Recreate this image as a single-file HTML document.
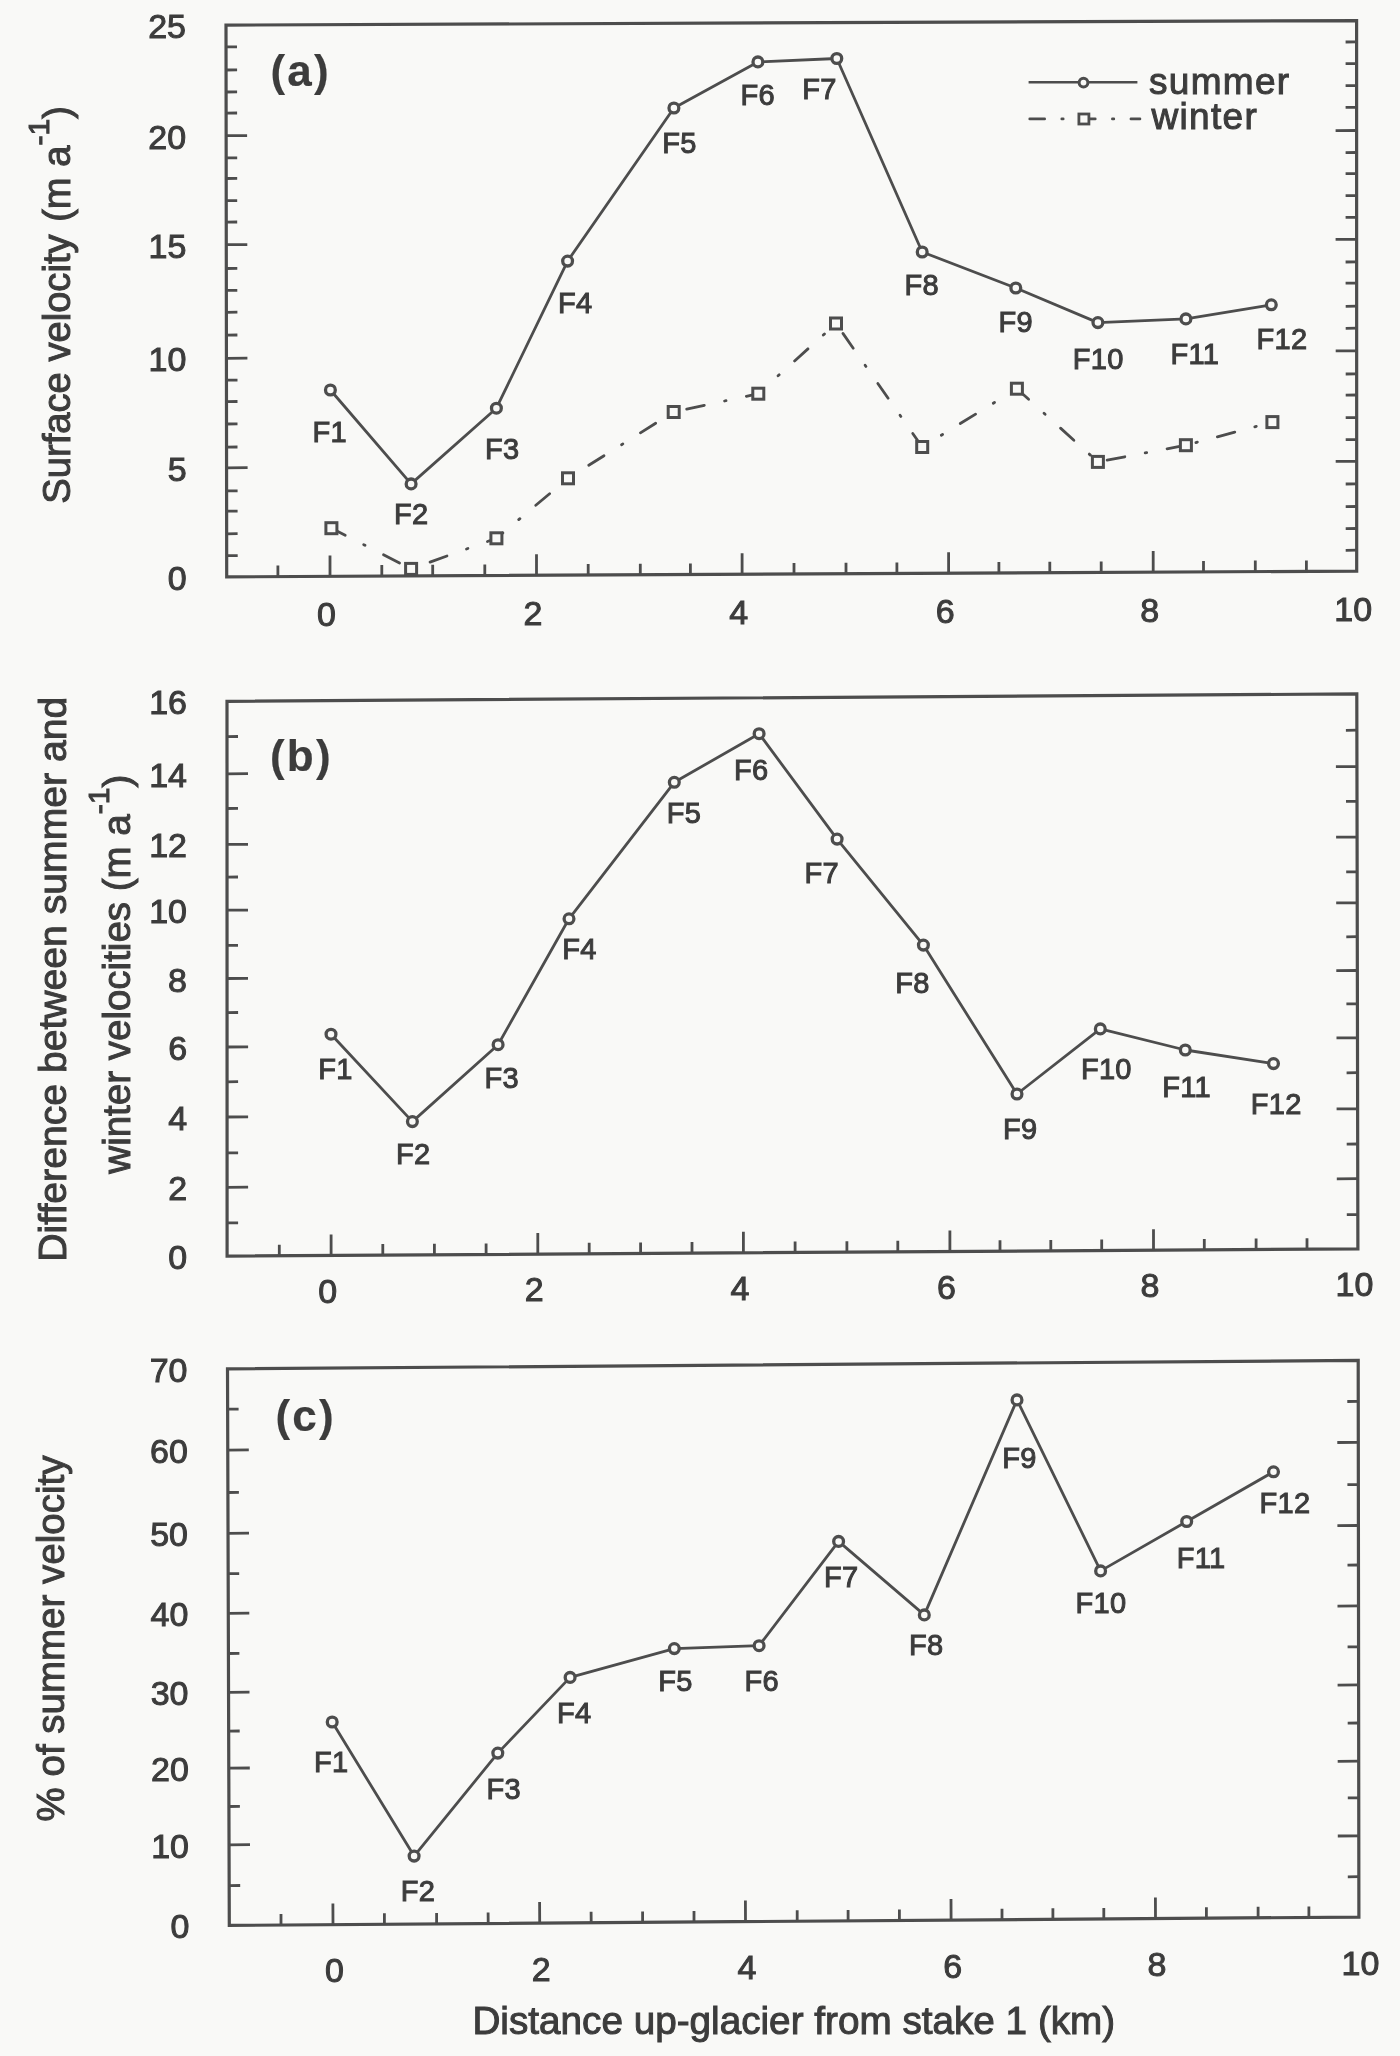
<!DOCTYPE html>
<html><head><meta charset="utf-8"><title>Surface velocity figure</title>
<style>html,body{margin:0;padding:0;background:#f9f9f7;overflow:hidden;width:1400px;height:2056px;}svg{display:block;filter:blur(0.6px);}text{stroke:#3c3c3c;stroke-width:1.0px;}text.b{stroke-width:0.2px;}</style>
</head><body>
<svg width="1400" height="2056" viewBox="0 0 1400 2056" font-family="'Liberation Sans', Arial, Helvetica, sans-serif">
<rect width="1400" height="2056" fill="#f9f9f7"/>
<polygon points="226.0,25.1 1356.6,20.6 1356.7,571.1 226.7,576.9" fill="none" stroke="#4d4d4d" stroke-width="3.2" stroke-linejoin="miter"/>
<path d="M226.7,555.7L237.7,555.6M1356.7,550.2L1345.7,550.3M226.6,533.8L237.6,533.7M1356.7,528.5L1345.7,528.6M226.6,511.2L237.6,511.1M1356.7,506.5L1345.7,506.6M226.6,490.9L237.6,490.8M1356.7,483.9L1345.7,484.0M226.6,467.8L247.6,467.7M1356.7,461.3L1335.7,461.4M226.5,447.1L237.5,447.0M1356.7,439.6L1345.7,439.7M226.5,424.0L237.5,423.9M1356.7,417.6L1345.7,417.7M226.5,401.6L237.5,401.5M1356.7,395.0L1345.7,395.1M226.5,380.2L237.5,380.1M1356.7,373.9L1345.7,374.0M226.4,358.3L247.4,358.2M1356.7,350.8L1335.7,350.9M226.4,335.1L237.4,335.0M1356.7,328.2L1345.7,328.3M226.4,312.3L237.4,312.2M1356.7,306.2L1345.7,306.3M226.3,290.4L237.3,290.3M1356.6,283.1L1345.6,283.2M226.3,268.5L237.3,268.4M1356.6,261.9L1345.6,262.0M226.3,244.7L247.3,244.6M1356.6,239.3L1335.6,239.4M226.2,222.1L237.2,222.0M1356.6,217.3L1345.6,217.4M226.2,200.7L237.2,200.6M1356.6,195.6L1345.6,195.7M226.2,178.5L237.2,178.4M1356.6,173.6L1345.6,173.7M226.2,157.9L237.2,157.8M1356.6,152.5L1345.6,152.6M226.1,135.7L247.1,135.6M1356.6,130.5L1335.6,130.6M226.1,113.1L237.1,113.0M1356.6,107.3L1345.6,107.4M226.1,92.0L237.1,91.9M1356.6,85.6L1345.6,85.7M226.1,70.0L237.1,69.9M1356.6,63.6L1345.6,63.7M226.0,46.9L237.0,46.8M1356.6,41.9L1345.6,42.0M277.9,576.6L277.9,565.6M330.0,576.4L330.0,555.4M381.8,576.1L381.8,565.1M432.7,575.8L432.7,564.8M484.8,575.6L484.8,564.6M536.5,575.3L536.5,554.3M588.2,575.0L588.2,564.0M640.3,574.8L640.3,563.8M690.4,574.5L690.4,563.5M742.1,574.3L742.1,553.3M794.0,574.0L794.0,563.0M846.0,573.7L846.0,562.7M896.9,573.5L896.9,562.5M948.6,573.2L948.6,552.2M998.9,572.9L998.9,561.9M1049.8,572.7L1049.8,561.7M1101.2,572.4L1101.2,561.4M1153.2,572.1L1153.2,551.1M1203.5,571.9L1203.5,560.9M1255.3,571.6L1255.3,560.6M1306.4,571.4L1306.4,560.4" stroke="#4d4d4d" stroke-width="2.8" fill="none"/>
<g font-size="34" fill="#3c3c3c"><text x="186.7" y="589.9" text-anchor="end">0</text><text x="186.6" y="480.8" text-anchor="end">5</text><text x="186.4" y="371.3" text-anchor="end">10</text><text x="186.3" y="257.7" text-anchor="end">15</text><text x="186.1" y="148.7" text-anchor="end">20</text><text x="186.0" y="38.1" text-anchor="end">25</text><text x="326.5" y="626.0" text-anchor="middle">0</text><text x="533.0" y="624.9" text-anchor="middle">2</text><text x="738.6" y="623.9" text-anchor="middle">4</text><text x="945.1" y="622.8" text-anchor="middle">6</text><text x="1149.7" y="621.7" text-anchor="middle">8</text><text x="1353.2" y="620.7" text-anchor="middle">10</text></g>
<polygon points="227.0,701.3 1356.8,693.9 1357.9,1248.9 227.1,1256.1" fill="none" stroke="#4d4d4d" stroke-width="3.2" stroke-linejoin="miter"/>
<path d="M227.1,1222.9L238.1,1222.8M1357.8,1214.6L1346.8,1214.7M227.1,1187.3L248.1,1187.2M1357.8,1178.7L1336.8,1178.8M227.1,1152.9L238.1,1152.8M1357.7,1144.0L1346.7,1144.1M227.1,1117.0L248.1,1116.9M1357.6,1108.8L1336.6,1108.9M227.1,1081.8L238.1,1081.7M1357.6,1072.7L1346.6,1072.8M227.1,1047.0L248.1,1046.9M1357.5,1037.8L1336.5,1037.9M227.1,1012.6L238.1,1012.5M1357.4,1003.8L1346.4,1003.9M227.0,978.5L248.0,978.4M1357.3,970.5L1336.3,970.6M227.0,945.4L238.0,945.3M1357.3,936.7L1346.3,936.8M227.0,910.2L248.0,910.1M1357.2,902.8L1336.2,902.9M227.0,877.1L238.0,877.0M1357.2,871.8L1346.2,871.9M227.0,844.4L248.0,844.3M1357.1,837.1L1336.1,837.2M227.0,808.5L238.0,808.4M1357.0,801.3L1346.0,801.4M227.0,773.8L248.0,773.7M1356.9,766.6L1335.9,766.7M227.0,736.6L238.0,736.5M1356.9,730.2L1345.9,730.3M279.3,1255.8L279.3,1244.8M331.1,1255.4L331.1,1234.4M382.8,1255.1L382.8,1244.1M434.4,1254.8L434.4,1243.8M486.1,1254.5L486.1,1243.5M537.8,1254.1L537.8,1233.1M589.2,1253.8L589.2,1242.8M640.6,1253.5L640.6,1242.5M692.0,1253.1L692.0,1242.1M743.4,1252.8L743.4,1231.8M795.1,1252.5L795.1,1241.5M846.9,1252.2L846.9,1241.2M897.8,1251.8L897.8,1240.8M949.9,1251.5L949.9,1230.5M1000.0,1251.2L1000.0,1240.2M1050.8,1250.9L1050.8,1239.9M1101.7,1250.5L1101.7,1239.5M1153.5,1250.2L1153.5,1229.2M1204.3,1249.9L1204.3,1238.9M1256.1,1249.5L1256.1,1238.5M1307.0,1249.2L1307.0,1238.2" stroke="#4d4d4d" stroke-width="2.8" fill="none"/>
<g font-size="34" fill="#3c3c3c"><text x="187.1" y="1269.1" text-anchor="end">0</text><text x="187.1" y="1200.3" text-anchor="end">2</text><text x="187.1" y="1130.0" text-anchor="end">4</text><text x="187.1" y="1060.0" text-anchor="end">6</text><text x="187.0" y="991.5" text-anchor="end">8</text><text x="187.0" y="923.2" text-anchor="end">10</text><text x="187.0" y="857.4" text-anchor="end">12</text><text x="187.0" y="786.8" text-anchor="end">14</text><text x="187.0" y="714.3" text-anchor="end">16</text><text x="327.6" y="1302.6" text-anchor="middle">0</text><text x="534.3" y="1301.3" text-anchor="middle">2</text><text x="739.9" y="1300.0" text-anchor="middle">4</text><text x="946.4" y="1298.7" text-anchor="middle">6</text><text x="1150.0" y="1297.4" text-anchor="middle">8</text><text x="1354.4" y="1296.1" text-anchor="middle">10</text></g>
<polygon points="227.5,1368.9 1358.2,1360.4 1358.9,1917.1 229.3,1925.4" fill="none" stroke="#4d4d4d" stroke-width="3.2" stroke-linejoin="miter"/>
<path d="M229.2,1885.6L240.2,1885.5M1358.8,1876.7L1347.8,1876.8M229.0,1844.8L250.0,1844.6M1358.8,1835.8L1337.8,1836.0M228.9,1806.5L239.9,1806.4M1358.7,1797.8L1347.8,1797.9M228.8,1768.2L249.8,1768.0M1358.7,1761.1L1337.7,1761.3M228.7,1731.1L239.7,1731.0M1358.7,1723.0L1347.7,1723.1M228.5,1692.3L249.5,1692.1M1358.6,1684.9L1337.6,1685.1M228.4,1653.5L239.4,1653.4M1358.6,1646.8L1347.6,1646.9M228.3,1613.3L249.3,1613.1M1358.5,1605.9L1337.5,1606.1M228.2,1573.7L239.2,1573.6M1358.5,1565.0L1347.5,1565.1M228.0,1533.4L249.0,1533.2M1358.4,1525.5L1337.4,1525.7M227.9,1492.5L238.9,1492.4M1358.4,1484.6L1347.4,1484.7M227.8,1450.1L248.8,1449.9M1358.3,1442.3L1337.3,1442.5M227.6,1409.2L238.6,1409.1M1358.3,1401.4L1347.3,1401.5M281.0,1925.0L281.0,1914.0M333.0,1924.6L332.9,1903.6M384.4,1924.3L384.4,1913.3M436.6,1923.9L436.6,1912.9M488.2,1923.5L488.1,1912.5M539.7,1923.1L539.6,1902.1M591.2,1922.7L591.1,1911.7M642.6,1922.4L642.6,1911.4M694.0,1922.0L694.0,1911.0M745.5,1921.6L745.4,1900.6M797.2,1921.2L797.2,1910.2M848.1,1920.9L848.1,1909.9M899.4,1920.5L899.4,1909.5M951.1,1920.1L951.0,1899.1M1002.0,1919.7L1002.0,1908.7M1052.9,1919.3L1052.9,1908.3M1103.8,1919.0L1103.8,1908.0M1155.5,1918.6L1155.4,1897.6M1206.4,1918.2L1206.4,1907.2M1258.1,1917.8L1258.1,1906.8M1308.9,1917.5L1308.9,1906.5" stroke="#4d4d4d" stroke-width="2.8" fill="none"/>
<g font-size="34" fill="#3c3c3c"><text x="189.3" y="1938.4" text-anchor="end">0</text><text x="189.0" y="1857.8" text-anchor="end">10</text><text x="188.8" y="1781.2" text-anchor="end">20</text><text x="188.5" y="1705.3" text-anchor="end">30</text><text x="188.3" y="1626.3" text-anchor="end">40</text><text x="188.0" y="1546.4" text-anchor="end">50</text><text x="187.8" y="1463.1" text-anchor="end">60</text><text x="187.5" y="1381.9" text-anchor="end">70</text><text x="334.5" y="1982.0" text-anchor="middle">0</text><text x="541.2" y="1980.5" text-anchor="middle">2</text><text x="747.0" y="1979.0" text-anchor="middle">4</text><text x="952.6" y="1977.5" text-anchor="middle">6</text><text x="1157.0" y="1976.0" text-anchor="middle">8</text><text x="1360.4" y="1974.5" text-anchor="middle">10</text></g>
<line x1="331.4" y1="528.2" x2="411.1" y2="568.9" stroke="#4d4d4d" stroke-dasharray="18 20.75 1.5 20.75" stroke-width="2.8" stroke-dashoffset="2.5" stroke-linecap="round"/><line x1="411.1" y1="568.9" x2="496.4" y2="538.3" stroke="#4d4d4d" stroke-dasharray="18 20.75 1.5 20.75" stroke-width="2.8" stroke-dashoffset="40.9" stroke-linecap="round"/><line x1="496.4" y1="538.3" x2="568.0" y2="478.3" stroke="#4d4d4d" stroke-dasharray="18 20.75 1.5 20.75" stroke-width="2.8" stroke-dashoffset="9.6" stroke-linecap="round"/><line x1="568.0" y1="478.3" x2="673.7" y2="412.0" stroke="#4d4d4d" stroke-dasharray="18 20.75 1.5 20.75" stroke-width="2.8" stroke-dashoffset="36.5" stroke-linecap="round"/><line x1="673.7" y1="412.0" x2="758.3" y2="393.7" stroke="#4d4d4d" stroke-dasharray="18 20.75 1.5 20.75" stroke-width="2.8" stroke-dashoffset="47.7" stroke-linecap="round"/><line x1="758.3" y1="393.7" x2="836.0" y2="323.5" stroke="#4d4d4d" stroke-dasharray="18 20.75 1.5 20.75" stroke-width="2.8" stroke-dashoffset="12.1" stroke-linecap="round"/><line x1="836.0" y1="323.5" x2="922.2" y2="447.0" stroke="#4d4d4d" stroke-dasharray="18 20.75 1.5 20.75" stroke-width="2.8" stroke-dashoffset="48.9" stroke-linecap="round"/><line x1="922.2" y1="447.0" x2="1016.9" y2="388.7" stroke="#4d4d4d" stroke-dasharray="18 20.75 1.5 20.75" stroke-width="2.8" stroke-dashoffset="16.3" stroke-linecap="round"/><line x1="1016.9" y1="388.7" x2="1097.9" y2="461.9" stroke="#4d4d4d" stroke-dasharray="18 20.75 1.5 20.75" stroke-width="2.8" stroke-dashoffset="2.2" stroke-linecap="round"/><line x1="1097.9" y1="461.9" x2="1185.9" y2="445.2" stroke="#4d4d4d" stroke-dasharray="18 20.75 1.5 20.75" stroke-width="2.8" stroke-dashoffset="51.6" stroke-linecap="round"/><line x1="1185.9" y1="445.2" x2="1272.4" y2="422.1" stroke="#4d4d4d" stroke-dasharray="18 20.75 1.5 20.75" stroke-width="2.8" stroke-dashoffset="28.4" stroke-linecap="round"/><rect x="325.9" y="522.7" width="11" height="11" fill="#f9f9f7" stroke="#4d4d4d" stroke-width="3"/><rect x="405.6" y="563.4" width="11" height="11" fill="#f9f9f7" stroke="#4d4d4d" stroke-width="3"/><rect x="490.9" y="532.8" width="11" height="11" fill="#f9f9f7" stroke="#4d4d4d" stroke-width="3"/><rect x="562.5" y="472.8" width="11" height="11" fill="#f9f9f7" stroke="#4d4d4d" stroke-width="3"/><rect x="668.2" y="406.5" width="11" height="11" fill="#f9f9f7" stroke="#4d4d4d" stroke-width="3"/><rect x="752.8" y="388.2" width="11" height="11" fill="#f9f9f7" stroke="#4d4d4d" stroke-width="3"/><rect x="830.5" y="318.0" width="11" height="11" fill="#f9f9f7" stroke="#4d4d4d" stroke-width="3"/><rect x="916.7" y="441.5" width="11" height="11" fill="#f9f9f7" stroke="#4d4d4d" stroke-width="3"/><rect x="1011.4" y="383.2" width="11" height="11" fill="#f9f9f7" stroke="#4d4d4d" stroke-width="3"/><rect x="1092.4" y="456.4" width="11" height="11" fill="#f9f9f7" stroke="#4d4d4d" stroke-width="3"/><rect x="1180.4" y="439.7" width="11" height="11" fill="#f9f9f7" stroke="#4d4d4d" stroke-width="3"/><rect x="1266.9" y="416.6" width="11" height="11" fill="#f9f9f7" stroke="#4d4d4d" stroke-width="3"/>
<polyline points="330.4,390.0 411.1,483.9 496.4,408.2 567.6,261.1 673.9,108.0 757.9,61.9 836.8,58.5 922.2,252.0 1015.8,288.0 1097.9,322.6 1185.9,318.9 1271.3,304.8" fill="none" stroke="#4d4d4d" stroke-width="2.8" stroke-linejoin="round"/><circle cx="330.4" cy="390.0" r="4.9" fill="#f9f9f7" stroke="#4d4d4d" stroke-width="3.3"/><circle cx="411.1" cy="483.9" r="4.9" fill="#f9f9f7" stroke="#4d4d4d" stroke-width="3.3"/><circle cx="496.4" cy="408.2" r="4.9" fill="#f9f9f7" stroke="#4d4d4d" stroke-width="3.3"/><circle cx="567.6" cy="261.1" r="4.9" fill="#f9f9f7" stroke="#4d4d4d" stroke-width="3.3"/><circle cx="673.9" cy="108.0" r="4.9" fill="#f9f9f7" stroke="#4d4d4d" stroke-width="3.3"/><circle cx="757.9" cy="61.9" r="4.9" fill="#f9f9f7" stroke="#4d4d4d" stroke-width="3.3"/><circle cx="836.8" cy="58.5" r="4.9" fill="#f9f9f7" stroke="#4d4d4d" stroke-width="3.3"/><circle cx="922.2" cy="252.0" r="4.9" fill="#f9f9f7" stroke="#4d4d4d" stroke-width="3.3"/><circle cx="1015.8" cy="288.0" r="4.9" fill="#f9f9f7" stroke="#4d4d4d" stroke-width="3.3"/><circle cx="1097.9" cy="322.6" r="4.9" fill="#f9f9f7" stroke="#4d4d4d" stroke-width="3.3"/><circle cx="1185.9" cy="318.9" r="4.9" fill="#f9f9f7" stroke="#4d4d4d" stroke-width="3.3"/><circle cx="1271.3" cy="304.8" r="4.9" fill="#f9f9f7" stroke="#4d4d4d" stroke-width="3.3"/>
<g font-size="29" fill="#3c3c3c" letter-spacing="0.3"><text x="312.5" y="441.6">F1</text><text x="393.9" y="524.1">F2</text><text x="485.0" y="458.8">F3</text><text x="558.1" y="312.8">F4</text><text x="662.2" y="153.3">F5</text><text x="740.6" y="104.5">F6</text><text x="802.3" y="99.3">F7</text><text x="904.4" y="294.9">F8</text><text x="998.4" y="332.1">F9</text><text x="1072.7" y="369.2">F10</text><text x="1170.4" y="363.6">F11</text><text x="1256.5" y="348.8">F12</text></g>
<polyline points="331.0,1034.2 412.4,1121.6 498.1,1044.7 569.0,918.8 674.3,782.3 759.1,733.7 837.1,839.1 923.4,945.1 1017.0,1094.0 1100.3,1028.9 1185.3,1050.0 1273.5,1063.6" fill="none" stroke="#4d4d4d" stroke-width="2.8" stroke-linejoin="round"/><circle cx="331.0" cy="1034.2" r="4.9" fill="#f9f9f7" stroke="#4d4d4d" stroke-width="3.3"/><circle cx="412.4" cy="1121.6" r="4.9" fill="#f9f9f7" stroke="#4d4d4d" stroke-width="3.3"/><circle cx="498.1" cy="1044.7" r="4.9" fill="#f9f9f7" stroke="#4d4d4d" stroke-width="3.3"/><circle cx="569.0" cy="918.8" r="4.9" fill="#f9f9f7" stroke="#4d4d4d" stroke-width="3.3"/><circle cx="674.3" cy="782.3" r="4.9" fill="#f9f9f7" stroke="#4d4d4d" stroke-width="3.3"/><circle cx="759.1" cy="733.7" r="4.9" fill="#f9f9f7" stroke="#4d4d4d" stroke-width="3.3"/><circle cx="837.1" cy="839.1" r="4.9" fill="#f9f9f7" stroke="#4d4d4d" stroke-width="3.3"/><circle cx="923.4" cy="945.1" r="4.9" fill="#f9f9f7" stroke="#4d4d4d" stroke-width="3.3"/><circle cx="1017.0" cy="1094.0" r="4.9" fill="#f9f9f7" stroke="#4d4d4d" stroke-width="3.3"/><circle cx="1100.3" cy="1028.9" r="4.9" fill="#f9f9f7" stroke="#4d4d4d" stroke-width="3.3"/><circle cx="1185.3" cy="1050.0" r="4.9" fill="#f9f9f7" stroke="#4d4d4d" stroke-width="3.3"/><circle cx="1273.5" cy="1063.6" r="4.9" fill="#f9f9f7" stroke="#4d4d4d" stroke-width="3.3"/>
<g font-size="29" fill="#3c3c3c" letter-spacing="0.3"><text x="318.3" y="1079.3">F1</text><text x="396.0" y="1164.3">F2</text><text x="484.6" y="1087.8">F3</text><text x="562.3" y="959.1">F4</text><text x="666.8" y="823.1">F5</text><text x="733.9" y="780.2">F6</text><text x="804.5" y="883.1">F7</text><text x="895.3" y="993.1">F8</text><text x="1003.0" y="1139.0">F9</text><text x="1080.9" y="1079.3">F10</text><text x="1162.3" y="1096.9">F11</text><text x="1250.8" y="1113.7">F12</text></g>
<polyline points="332.2,1722.0 414.1,1856.1 497.8,1753.1 570.1,1677.4 674.3,1648.6 759.1,1645.7 838.6,1541.4 924.3,1614.9 1017.0,1399.9 1100.6,1570.9 1186.7,1521.5 1273.5,1471.8" fill="none" stroke="#4d4d4d" stroke-width="2.8" stroke-linejoin="round"/><circle cx="332.2" cy="1722.0" r="4.9" fill="#f9f9f7" stroke="#4d4d4d" stroke-width="3.3"/><circle cx="414.1" cy="1856.1" r="4.9" fill="#f9f9f7" stroke="#4d4d4d" stroke-width="3.3"/><circle cx="497.8" cy="1753.1" r="4.9" fill="#f9f9f7" stroke="#4d4d4d" stroke-width="3.3"/><circle cx="570.1" cy="1677.4" r="4.9" fill="#f9f9f7" stroke="#4d4d4d" stroke-width="3.3"/><circle cx="674.3" cy="1648.6" r="4.9" fill="#f9f9f7" stroke="#4d4d4d" stroke-width="3.3"/><circle cx="759.1" cy="1645.7" r="4.9" fill="#f9f9f7" stroke="#4d4d4d" stroke-width="3.3"/><circle cx="838.6" cy="1541.4" r="4.9" fill="#f9f9f7" stroke="#4d4d4d" stroke-width="3.3"/><circle cx="924.3" cy="1614.9" r="4.9" fill="#f9f9f7" stroke="#4d4d4d" stroke-width="3.3"/><circle cx="1017.0" cy="1399.9" r="4.9" fill="#f9f9f7" stroke="#4d4d4d" stroke-width="3.3"/><circle cx="1100.6" cy="1570.9" r="4.9" fill="#f9f9f7" stroke="#4d4d4d" stroke-width="3.3"/><circle cx="1186.7" cy="1521.5" r="4.9" fill="#f9f9f7" stroke="#4d4d4d" stroke-width="3.3"/><circle cx="1273.5" cy="1471.8" r="4.9" fill="#f9f9f7" stroke="#4d4d4d" stroke-width="3.3"/>
<g font-size="29" fill="#3c3c3c" letter-spacing="0.3"><text x="314.1" y="1772.0">F1</text><text x="400.8" y="1900.7">F2</text><text x="486.6" y="1798.7">F3</text><text x="557.0" y="1723.4">F4</text><text x="658.2" y="1691.1">F5</text><text x="744.5" y="1691.1">F6</text><text x="823.9" y="1587.3">F7</text><text x="909.1" y="1654.5">F8</text><text x="1002.2" y="1467.9">F9</text><text x="1075.5" y="1613.2">F10</text><text x="1176.7" y="1568.4">F11</text><text x="1259.5" y="1512.7">F12</text></g>
<g font-size="44" font-weight="bold" fill="#3c3c3c" letter-spacing="2.2"><text class="b" x="270.5" y="86.3">(a)</text><text class="b" x="270" y="771.4">(b)</text><text class="b" x="275.5" y="1430.7">(c)</text></g>
<path d="M1028.6,82.2H1137.4" stroke="#4d4d4d" stroke-width="2.5"/><circle cx="1083.5" cy="82.6" r="4.4" fill="#f9f9f7" stroke="#4d4d4d" stroke-width="3"/>
<path d="M1029.7,118.9H1140" stroke="#4d4d4d" stroke-width="2.6" stroke-dasharray="15 17.05 1.5 17.05" stroke-linecap="round"/><rect x="1078.9" y="114" width="10" height="10" fill="#f9f9f7" stroke="#4d4d4d" stroke-width="2.8"/>
<g font-size="37" fill="#3c3c3c" letter-spacing="1.3"><text x="1149" y="94.3">summer</text><text x="1151.5" y="128.6">winter</text></g>
<text transform="translate(69.5,304.9) rotate(-90)" text-anchor="middle" font-size="38.15" fill="#3c3c3c">Surface velocity <tspan dx="2">(m a</tspan><tspan font-size="30" dy="-21">-1</tspan><tspan dy="21">)</tspan></text>
<text transform="translate(65.9,979.2) rotate(-90)" text-anchor="middle" font-size="39.15" fill="#3c3c3c">Difference between summer and</text>
<text transform="translate(129.5,974.2) rotate(-90)" text-anchor="middle" font-size="38.5" fill="#3c3c3c">winter velocities (m a<tspan font-size="30" dy="-21">-1</tspan><tspan dy="21">)</tspan></text>
<text transform="translate(64.0,1638.5) rotate(-90)" text-anchor="middle" font-size="38.5" fill="#3c3c3c">% of summer velocity</text>
<text x="793.8" y="2033.7" text-anchor="middle" font-size="38.7" fill="#3c3c3c">Distance up-glacier from stake 1 (km)</text>
</svg>
</body></html>
